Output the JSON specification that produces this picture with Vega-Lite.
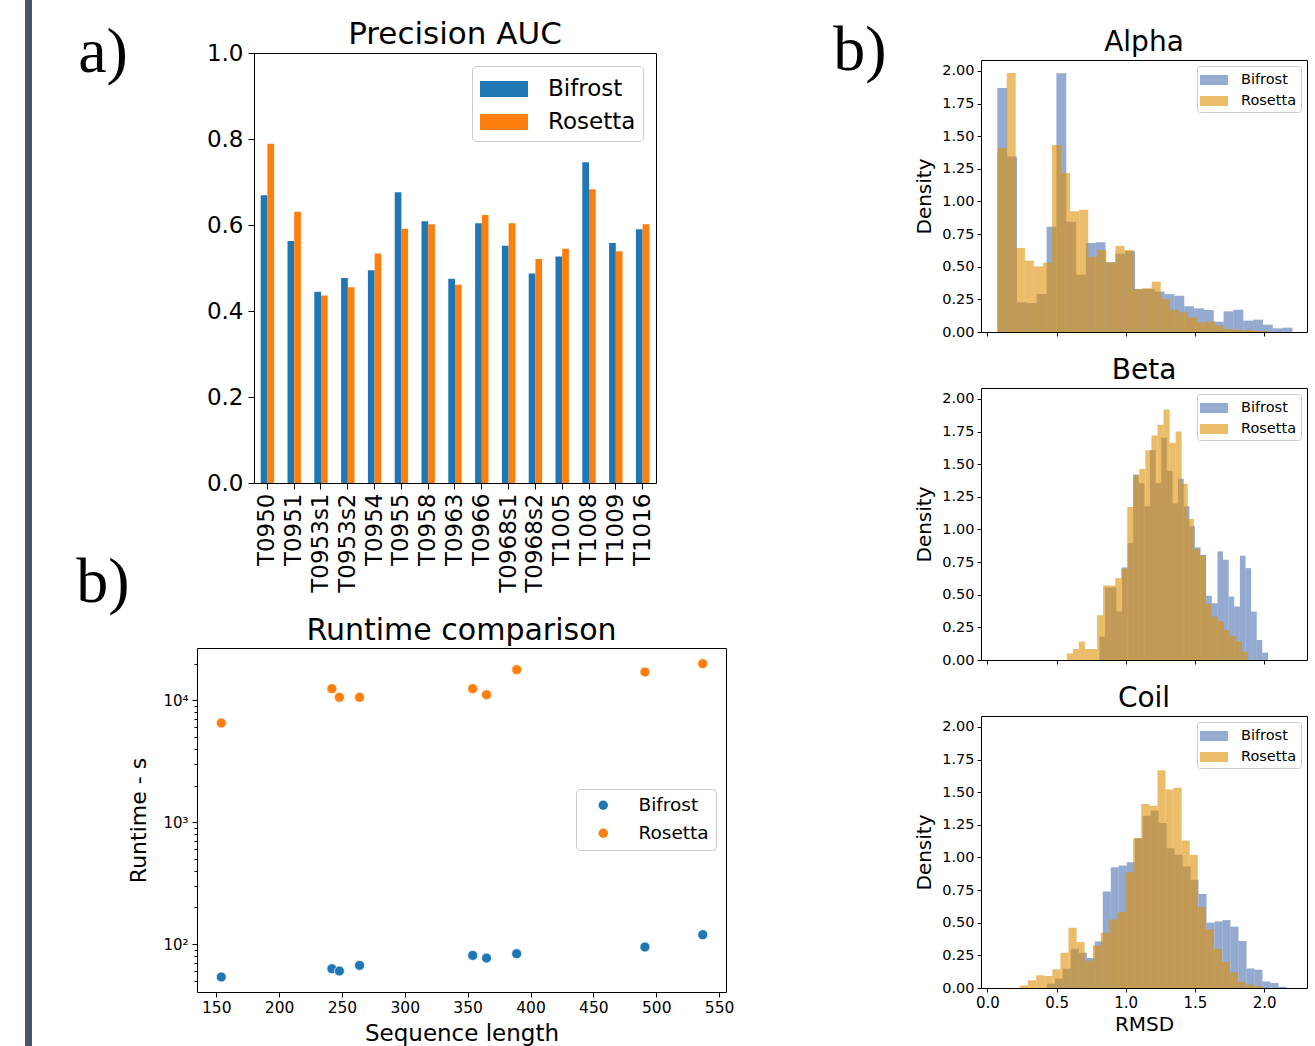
{
  "$schema": "https://vega.github.io/schema/vega-lite/v6.json",
  "padding": 0,
  "background": "white",
  "spacing": 0,
  "resolve": {"scale": {"color": "independent"}, "legend": {"color": "independent"}},
  "config": {
    "font": "DejaVu Sans",
    "view": {"stroke": "#000", "strokeWidth": 1},
    "axis": {"domain": false, "grid": false, "tickColor": "#000", "labelColor": "#000", "titleColor": "#000", "labelFont": "DejaVu Sans", "titleFont": "DejaVu Sans", "titleFontWeight": "normal", "labelFlush": false, "labelOverlap": false},
    "legend": {"labelFont": "DejaVu Sans", "labelColor": "#000", "fillColor": "white", "strokeColor": "#cccccc", "cornerRadius": 4},
    "title": {"font": "DejaVu Sans", "fontWeight": "normal", "color": "#000", "anchor": "middle", "frame": "group"}
  },
  "datasets": {
    "bars": [
      {"target": "T0950", "method": "Bifrost", "auc": 0.669}, {"target": "T0950", "method": "Rosetta", "auc": 0.789},
      {"target": "T0951", "method": "Bifrost", "auc": 0.563}, {"target": "T0951", "method": "Rosetta", "auc": 0.631},
      {"target": "T0953s1", "method": "Bifrost", "auc": 0.445}, {"target": "T0953s1", "method": "Rosetta", "auc": 0.436},
      {"target": "T0953s2", "method": "Bifrost", "auc": 0.477}, {"target": "T0953s2", "method": "Rosetta", "auc": 0.455},
      {"target": "T0954", "method": "Bifrost", "auc": 0.495}, {"target": "T0954", "method": "Rosetta", "auc": 0.534},
      {"target": "T0955", "method": "Bifrost", "auc": 0.676}, {"target": "T0955", "method": "Rosetta", "auc": 0.591},
      {"target": "T0958", "method": "Bifrost", "auc": 0.609}, {"target": "T0958", "method": "Rosetta", "auc": 0.602},
      {"target": "T0963", "method": "Bifrost", "auc": 0.475}, {"target": "T0963", "method": "Rosetta", "auc": 0.461},
      {"target": "T0966", "method": "Bifrost", "auc": 0.604}, {"target": "T0966", "method": "Rosetta", "auc": 0.623},
      {"target": "T0968s1", "method": "Bifrost", "auc": 0.552}, {"target": "T0968s1", "method": "Rosetta", "auc": 0.604},
      {"target": "T0968s2", "method": "Bifrost", "auc": 0.487}, {"target": "T0968s2", "method": "Rosetta", "auc": 0.521},
      {"target": "T1005", "method": "Bifrost", "auc": 0.527}, {"target": "T1005", "method": "Rosetta", "auc": 0.545},
      {"target": "T1008", "method": "Bifrost", "auc": 0.746}, {"target": "T1008", "method": "Rosetta", "auc": 0.683},
      {"target": "T1009", "method": "Bifrost", "auc": 0.558}, {"target": "T1009", "method": "Rosetta", "auc": 0.539},
      {"target": "T1016", "method": "Bifrost", "auc": 0.590}, {"target": "T1016", "method": "Rosetta", "auc": 0.602}
    ],
    "runtime": [
      {"len": 154, "method": "Bifrost", "time": 53.6}, {"len": 242, "method": "Bifrost", "time": 62.7},
      {"len": 248, "method": "Bifrost", "time": 60.0}, {"len": 264, "method": "Bifrost", "time": 66.8},
      {"len": 354, "method": "Bifrost", "time": 80.7}, {"len": 365, "method": "Bifrost", "time": 76.7},
      {"len": 389, "method": "Bifrost", "time": 83.3}, {"len": 491, "method": "Bifrost", "time": 94.5},
      {"len": 537, "method": "Bifrost", "time": 119.3},
      {"len": 154, "method": "Rosetta", "time": 6515}, {"len": 242, "method": "Rosetta", "time": 12470},
      {"len": 248, "method": "Rosetta", "time": 10583}, {"len": 264, "method": "Rosetta", "time": 10583},
      {"len": 354, "method": "Rosetta", "time": 12470}, {"len": 365, "method": "Rosetta", "time": 11130},
      {"len": 389, "method": "Rosetta", "time": 17860}, {"len": 491, "method": "Rosetta", "time": 17080},
      {"len": 537, "method": "Rosetta", "time": 20000}
    ],
    "alpha": [
      {"s": "Bifrost", "x0": 0.072, "x1": 0.143, "d": 1.870}, {"s": "Bifrost", "x0": 0.143, "x1": 0.214, "d": 1.344},
      {"s": "Bifrost", "x0": 0.214, "x1": 0.285, "d": 0.227}, {"s": "Bifrost", "x0": 0.285, "x1": 0.356, "d": 0.222},
      {"s": "Bifrost", "x0": 0.356, "x1": 0.428, "d": 0.291}, {"s": "Bifrost", "x0": 0.428, "x1": 0.499, "d": 0.807},
      {"s": "Bifrost", "x0": 0.499, "x1": 0.570, "d": 1.982}, {"s": "Bifrost", "x0": 0.570, "x1": 0.641, "d": 0.845},
      {"s": "Bifrost", "x0": 0.641, "x1": 0.712, "d": 0.439}, {"s": "Bifrost", "x0": 0.712, "x1": 0.783, "d": 0.682},
      {"s": "Bifrost", "x0": 0.783, "x1": 0.854, "d": 0.687}, {"s": "Bifrost", "x0": 0.854, "x1": 0.925, "d": 0.534},
      {"s": "Bifrost", "x0": 0.925, "x1": 0.996, "d": 0.600}, {"s": "Bifrost", "x0": 0.996, "x1": 1.067, "d": 0.620},
      {"s": "Bifrost", "x0": 1.067, "x1": 1.139, "d": 0.330}, {"s": "Bifrost", "x0": 1.139, "x1": 1.210, "d": 0.330},
      {"s": "Bifrost", "x0": 1.210, "x1": 1.281, "d": 0.310}, {"s": "Bifrost", "x0": 1.281, "x1": 1.352, "d": 0.290},
      {"s": "Bifrost", "x0": 1.352, "x1": 1.423, "d": 0.278}, {"s": "Bifrost", "x0": 1.423, "x1": 1.494, "d": 0.197},
      {"s": "Bifrost", "x0": 1.494, "x1": 1.565, "d": 0.181}, {"s": "Bifrost", "x0": 1.565, "x1": 1.636, "d": 0.169},
      {"s": "Bifrost", "x0": 1.636, "x1": 1.707, "d": 0.079}, {"s": "Bifrost", "x0": 1.707, "x1": 1.778, "d": 0.158},
      {"s": "Bifrost", "x0": 1.778, "x1": 1.850, "d": 0.171}, {"s": "Bifrost", "x0": 1.850, "x1": 1.921, "d": 0.087},
      {"s": "Bifrost", "x0": 1.921, "x1": 1.992, "d": 0.095}, {"s": "Bifrost", "x0": 1.992, "x1": 2.063, "d": 0.056},
      {"s": "Bifrost", "x0": 2.063, "x1": 2.134, "d": 0.028}, {"s": "Bifrost", "x0": 2.134, "x1": 2.205, "d": 0.033},
      {"s": "Rosetta", "x0": 0.074, "x1": 0.140, "d": 1.410}, {"s": "Rosetta", "x0": 0.140, "x1": 0.205, "d": 1.985},
      {"s": "Rosetta", "x0": 0.205, "x1": 0.271, "d": 0.644}, {"s": "Rosetta", "x0": 0.271, "x1": 0.336, "d": 0.547},
      {"s": "Rosetta", "x0": 0.336, "x1": 0.402, "d": 0.503}, {"s": "Rosetta", "x0": 0.402, "x1": 0.467, "d": 0.530},
      {"s": "Rosetta", "x0": 0.467, "x1": 0.533, "d": 1.433}, {"s": "Rosetta", "x0": 0.533, "x1": 0.598, "d": 1.218},
      {"s": "Rosetta", "x0": 0.598, "x1": 0.664, "d": 0.925}, {"s": "Rosetta", "x0": 0.664, "x1": 0.729, "d": 0.937},
      {"s": "Rosetta", "x0": 0.729, "x1": 0.795, "d": 0.577}, {"s": "Rosetta", "x0": 0.795, "x1": 0.860, "d": 0.628},
      {"s": "Rosetta", "x0": 0.860, "x1": 0.926, "d": 0.534}, {"s": "Rosetta", "x0": 0.926, "x1": 0.991, "d": 0.659},
      {"s": "Rosetta", "x0": 0.991, "x1": 1.057, "d": 0.628}, {"s": "Rosetta", "x0": 1.057, "x1": 1.122, "d": 0.330},
      {"s": "Rosetta", "x0": 1.122, "x1": 1.188, "d": 0.335}, {"s": "Rosetta", "x0": 1.188, "x1": 1.253, "d": 0.386},
      {"s": "Rosetta", "x0": 1.253, "x1": 1.319, "d": 0.253}, {"s": "Rosetta", "x0": 1.319, "x1": 1.384, "d": 0.171},
      {"s": "Rosetta", "x0": 1.384, "x1": 1.450, "d": 0.151}, {"s": "Rosetta", "x0": 1.450, "x1": 1.515, "d": 0.112},
      {"s": "Rosetta", "x0": 1.515, "x1": 1.581, "d": 0.074}, {"s": "Rosetta", "x0": 1.581, "x1": 1.646, "d": 0.079},
      {"s": "Rosetta", "x0": 1.646, "x1": 1.712, "d": 0.049}, {"s": "Rosetta", "x0": 1.712, "x1": 1.777, "d": 0.023},
      {"s": "Rosetta", "x0": 1.777, "x1": 1.843, "d": 0.018}, {"s": "Rosetta", "x0": 1.843, "x1": 1.908, "d": 0.015},
      {"s": "Rosetta", "x0": 1.908, "x1": 1.974, "d": 0.010}, {"s": "Rosetta", "x0": 1.974, "x1": 2.039, "d": 0.008}
    ],
    "beta": [
      {"s": "Bifrost", "x0": 0.810, "x1": 0.851, "d": 0.179}, {"s": "Bifrost", "x0": 0.851, "x1": 0.891, "d": 0.556},
      {"s": "Bifrost", "x0": 0.891, "x1": 0.932, "d": 0.556}, {"s": "Bifrost", "x0": 0.932, "x1": 0.972, "d": 0.371},
      {"s": "Bifrost", "x0": 0.972, "x1": 1.013, "d": 0.709}, {"s": "Bifrost", "x0": 1.013, "x1": 1.054, "d": 0.896},
      {"s": "Bifrost", "x0": 1.054, "x1": 1.094, "d": 1.421}, {"s": "Bifrost", "x0": 1.094, "x1": 1.135, "d": 1.357},
      {"s": "Bifrost", "x0": 1.135, "x1": 1.175, "d": 1.178}, {"s": "Bifrost", "x0": 1.175, "x1": 1.216, "d": 1.608},
      {"s": "Bifrost", "x0": 1.216, "x1": 1.257, "d": 1.357}, {"s": "Bifrost", "x0": 1.257, "x1": 1.297, "d": 1.702},
      {"s": "Bifrost", "x0": 1.297, "x1": 1.338, "d": 1.450}, {"s": "Bifrost", "x0": 1.338, "x1": 1.378, "d": 1.200},
      {"s": "Bifrost", "x0": 1.378, "x1": 1.419, "d": 1.388}, {"s": "Bifrost", "x0": 1.419, "x1": 1.460, "d": 1.178},
      {"s": "Bifrost", "x0": 1.460, "x1": 1.500, "d": 1.024}, {"s": "Bifrost", "x0": 1.500, "x1": 1.541, "d": 0.863},
      {"s": "Bifrost", "x0": 1.541, "x1": 1.581, "d": 0.806}, {"s": "Bifrost", "x0": 1.581, "x1": 1.622, "d": 0.492},
      {"s": "Bifrost", "x0": 1.622, "x1": 1.663, "d": 0.435}, {"s": "Bifrost", "x0": 1.663, "x1": 1.703, "d": 0.832},
      {"s": "Bifrost", "x0": 1.703, "x1": 1.744, "d": 0.768}, {"s": "Bifrost", "x0": 1.744, "x1": 1.784, "d": 0.486},
      {"s": "Bifrost", "x0": 1.784, "x1": 1.825, "d": 0.410}, {"s": "Bifrost", "x0": 1.825, "x1": 1.866, "d": 0.799},
      {"s": "Bifrost", "x0": 1.866, "x1": 1.906, "d": 0.704}, {"s": "Bifrost", "x0": 1.906, "x1": 1.947, "d": 0.371},
      {"s": "Bifrost", "x0": 1.947, "x1": 1.987, "d": 0.154}, {"s": "Bifrost", "x0": 1.987, "x1": 2.028, "d": 0.056},
      {"s": "Rosetta", "x0": 0.574, "x1": 0.618, "d": 0.051}, {"s": "Rosetta", "x0": 0.618, "x1": 0.661, "d": 0.084},
      {"s": "Rosetta", "x0": 0.661, "x1": 0.705, "d": 0.141}, {"s": "Rosetta", "x0": 0.705, "x1": 0.749, "d": 0.084},
      {"s": "Rosetta", "x0": 0.749, "x1": 0.793, "d": 0.084}, {"s": "Rosetta", "x0": 0.793, "x1": 0.836, "d": 0.343},
      {"s": "Rosetta", "x0": 0.836, "x1": 0.880, "d": 0.571}, {"s": "Rosetta", "x0": 0.880, "x1": 0.924, "d": 0.571},
      {"s": "Rosetta", "x0": 0.924, "x1": 0.967, "d": 0.627}, {"s": "Rosetta", "x0": 0.967, "x1": 1.011, "d": 0.700},
      {"s": "Rosetta", "x0": 1.011, "x1": 1.055, "d": 1.173}, {"s": "Rosetta", "x0": 1.055, "x1": 1.098, "d": 1.413},
      {"s": "Rosetta", "x0": 1.098, "x1": 1.142, "d": 1.464}, {"s": "Rosetta", "x0": 1.142, "x1": 1.186, "d": 1.608},
      {"s": "Rosetta", "x0": 1.186, "x1": 1.230, "d": 1.720}, {"s": "Rosetta", "x0": 1.230, "x1": 1.273, "d": 1.802},
      {"s": "Rosetta", "x0": 1.273, "x1": 1.317, "d": 1.920}, {"s": "Rosetta", "x0": 1.317, "x1": 1.361, "d": 1.664},
      {"s": "Rosetta", "x0": 1.361, "x1": 1.404, "d": 1.750}, {"s": "Rosetta", "x0": 1.404, "x1": 1.448, "d": 1.350},
      {"s": "Rosetta", "x0": 1.448, "x1": 1.492, "d": 1.080}, {"s": "Rosetta", "x0": 1.492, "x1": 1.535, "d": 0.850},
      {"s": "Rosetta", "x0": 1.535, "x1": 1.579, "d": 0.800}, {"s": "Rosetta", "x0": 1.579, "x1": 1.623, "d": 0.430},
      {"s": "Rosetta", "x0": 1.623, "x1": 1.667, "d": 0.333}, {"s": "Rosetta", "x0": 1.667, "x1": 1.710, "d": 0.300},
      {"s": "Rosetta", "x0": 1.710, "x1": 1.754, "d": 0.230}, {"s": "Rosetta", "x0": 1.754, "x1": 1.798, "d": 0.184},
      {"s": "Rosetta", "x0": 1.798, "x1": 1.841, "d": 0.146}, {"s": "Rosetta", "x0": 1.841, "x1": 1.885, "d": 0.064}
    ],
    "coil": [
      {"s": "Bifrost", "x0": 0.430, "x1": 0.488, "d": 0.033}, {"s": "Bifrost", "x0": 0.488, "x1": 0.545, "d": 0.071},
      {"s": "Bifrost", "x0": 0.545, "x1": 0.603, "d": 0.148}, {"s": "Bifrost", "x0": 0.603, "x1": 0.661, "d": 0.300},
      {"s": "Bifrost", "x0": 0.661, "x1": 0.719, "d": 0.270}, {"s": "Bifrost", "x0": 0.719, "x1": 0.776, "d": 0.230},
      {"s": "Bifrost", "x0": 0.776, "x1": 0.834, "d": 0.357}, {"s": "Bifrost", "x0": 0.834, "x1": 0.892, "d": 0.739},
      {"s": "Bifrost", "x0": 0.892, "x1": 0.949, "d": 0.925}, {"s": "Bifrost", "x0": 0.949, "x1": 1.007, "d": 0.938},
      {"s": "Bifrost", "x0": 1.007, "x1": 1.065, "d": 0.963}, {"s": "Bifrost", "x0": 1.065, "x1": 1.122, "d": 1.147},
      {"s": "Bifrost", "x0": 1.122, "x1": 1.180, "d": 1.320}, {"s": "Bifrost", "x0": 1.180, "x1": 1.238, "d": 1.358},
      {"s": "Bifrost", "x0": 1.238, "x1": 1.296, "d": 1.264}, {"s": "Bifrost", "x0": 1.296, "x1": 1.353, "d": 1.070},
      {"s": "Bifrost", "x0": 1.353, "x1": 1.411, "d": 1.020}, {"s": "Bifrost", "x0": 1.411, "x1": 1.469, "d": 0.930},
      {"s": "Bifrost", "x0": 1.469, "x1": 1.526, "d": 0.830}, {"s": "Bifrost", "x0": 1.526, "x1": 1.584, "d": 0.720},
      {"s": "Bifrost", "x0": 1.584, "x1": 1.642, "d": 0.500}, {"s": "Bifrost", "x0": 1.642, "x1": 1.699, "d": 0.510},
      {"s": "Bifrost", "x0": 1.699, "x1": 1.757, "d": 0.520}, {"s": "Bifrost", "x0": 1.757, "x1": 1.815, "d": 0.470},
      {"s": "Bifrost", "x0": 1.815, "x1": 1.873, "d": 0.360}, {"s": "Bifrost", "x0": 1.873, "x1": 1.930, "d": 0.150},
      {"s": "Bifrost", "x0": 1.930, "x1": 1.988, "d": 0.140}, {"s": "Bifrost", "x0": 1.988, "x1": 2.046, "d": 0.050},
      {"s": "Bifrost", "x0": 2.046, "x1": 2.103, "d": 0.038}, {"s": "Bifrost", "x0": 2.103, "x1": 2.161, "d": 0.010},
      {"s": "Rosetta", "x0": 0.236, "x1": 0.294, "d": 0.020}, {"s": "Rosetta", "x0": 0.294, "x1": 0.353, "d": 0.059},
      {"s": "Rosetta", "x0": 0.353, "x1": 0.411, "d": 0.097}, {"s": "Rosetta", "x0": 0.411, "x1": 0.470, "d": 0.092},
      {"s": "Rosetta", "x0": 0.470, "x1": 0.528, "d": 0.143}, {"s": "Rosetta", "x0": 0.528, "x1": 0.586, "d": 0.270},
      {"s": "Rosetta", "x0": 0.586, "x1": 0.645, "d": 0.461}, {"s": "Rosetta", "x0": 0.645, "x1": 0.703, "d": 0.352},
      {"s": "Rosetta", "x0": 0.703, "x1": 0.762, "d": 0.210}, {"s": "Rosetta", "x0": 0.762, "x1": 0.820, "d": 0.326},
      {"s": "Rosetta", "x0": 0.820, "x1": 0.878, "d": 0.423}, {"s": "Rosetta", "x0": 0.878, "x1": 0.937, "d": 0.525},
      {"s": "Rosetta", "x0": 0.937, "x1": 0.995, "d": 0.581}, {"s": "Rosetta", "x0": 0.995, "x1": 1.054, "d": 0.887},
      {"s": "Rosetta", "x0": 1.054, "x1": 1.112, "d": 1.147}, {"s": "Rosetta", "x0": 1.112, "x1": 1.170, "d": 1.409},
      {"s": "Rosetta", "x0": 1.170, "x1": 1.229, "d": 1.397}, {"s": "Rosetta", "x0": 1.229, "x1": 1.287, "d": 1.669},
      {"s": "Rosetta", "x0": 1.287, "x1": 1.346, "d": 1.520}, {"s": "Rosetta", "x0": 1.346, "x1": 1.404, "d": 1.534},
      {"s": "Rosetta", "x0": 1.404, "x1": 1.462, "d": 1.130}, {"s": "Rosetta", "x0": 1.462, "x1": 1.521, "d": 1.019},
      {"s": "Rosetta", "x0": 1.521, "x1": 1.579, "d": 0.620}, {"s": "Rosetta", "x0": 1.579, "x1": 1.638, "d": 0.450},
      {"s": "Rosetta", "x0": 1.638, "x1": 1.696, "d": 0.300}, {"s": "Rosetta", "x0": 1.696, "x1": 1.754, "d": 0.200},
      {"s": "Rosetta", "x0": 1.754, "x1": 1.813, "d": 0.120}, {"s": "Rosetta", "x0": 1.813, "x1": 1.871, "d": 0.046},
      {"s": "Rosetta", "x0": 1.871, "x1": 1.930, "d": 0.025}, {"s": "Rosetta", "x0": 1.930, "x1": 1.988, "d": 0.015}
    ]
  },
  "hconcat": [
    {"width": 25, "height": 1046, "data": {"values": []}, "mark": "rect", "view": {"stroke": null}},
    {"width": 7, "height": 1046, "data": {"values": []}, "mark": "rect", "view": {"stroke": null, "fill": "#47566e"}},
    {"width": 44, "height": 1, "data": {"values": []}, "mark": "rect", "view": {"stroke": null}},
    {
      "spacing": 0,
      "resolve": {"scale": {"color": "independent"}, "legend": {"color": "independent"}},
      "vconcat": [
        {"width": 1, "height": 17.5, "data": {"values": []}, "mark": "rect", "view": {"stroke": null}},
        {
          "spacing": 75,
          "resolve": {"scale": {"color": "independent"}, "legend": {"color": "independent"}},
          "hconcat": [
            {
              "spacing": 0,
              "vconcat": [
                {"width": 50, "height": 38, "data": {"values": [{}]}, "mark": {"type": "text", "font": "Liberation Serif", "fontSize": 64, "align": "center", "baseline": "alphabetic", "color": "#000"}, "encoding": {"text": {"value": "a)"}}, "view": {"stroke": null}},
                {"width": 1, "height": 460, "data": {"values": []}, "mark": "rect", "view": {"stroke": null}},
                {"width": 50, "height": 2, "data": {"values": [{}]}, "mark": {"type": "text", "font": "Liberation Serif", "fontSize": 64, "align": "center", "baseline": "alphabetic", "color": "#000"}, "encoding": {"text": {"value": "b)"}}, "view": {"stroke": null}}
              ]
            },
            {
              "width": 402, "height": 430,
              "data": {"name": "bars"},
              "title": {"text": "Precision AUC", "fontSize": 31, "offset": -9},
              "mark": {"type": "bar"},
              "encoding": {
                "x": {"field": "target", "type": "nominal", "sort": null, "scale": {"paddingInner": 0.5, "paddingOuter": 0.25}, "axis": {"title": null, "labelAngle": -90, "labelFontSize": 23, "tickSize": 6, "labelPadding": 4}},
                "xOffset": {"field": "method", "type": "nominal", "sort": ["Bifrost", "Rosetta"]},
                "y": {"field": "auc", "type": "quantitative", "scale": {"domain": [0, 1], "nice": false}, "axis": {"title": null, "values": [0, 0.2, 0.4, 0.6, 0.8, 1.0], "format": ".1f", "labelFontSize": 23, "tickSize": 6, "labelPadding": 5}},
                "color": {"field": "method", "type": "nominal", "scale": {"domain": ["Bifrost", "Rosetta"], "range": ["#1f77b4", "#ff7f0e"]},
                  "legend": {"title": null, "orient": "top-right", "offset": 13, "labelFontSize": 23, "symbolType": "M-1.5,-0.5L1.5,-0.5L1.5,0.5L-1.5,0.5Z", "symbolSize": 1024, "symbolStrokeWidth": 0, "symbolOffset": 9, "labelOffset": 28, "padding": 7, "rowPadding": 5}}
              }
            }
          ]
        },
        {
          "spacing": 0,
          "resolve": {"scale": {"color": "independent"}, "legend": {"color": "independent"}},
          "hconcat": [
            {"width": 49, "height": 1, "data": {"values": []}, "mark": "rect", "view": {"stroke": null}},
            {
              "width": 529, "height": 344,
              "data": {"name": "runtime"},
              "title": {"text": "Runtime comparison", "fontSize": 30, "offset": 2},
              "mark": {"type": "point", "filled": true, "size": 100, "opacity": 1, "stroke": "white", "strokeWidth": 0.7},
              "encoding": {
                "x": {"field": "len", "type": "quantitative", "scale": {"domain": [134.7, 555.5], "nice": false, "zero": false}, "axis": {"title": "Sequence length", "titleFontSize": 23, "titlePadding": 7, "values": [150, 200, 250, 300, 350, 400, 450, 500, 550], "labelFontSize": 15.5, "tickSize": 5, "labelPadding": 3}},
                "y": {"field": "time", "type": "quantitative", "scale": {"type": "log", "domain": [40.4, 26890], "nice": false}, "axis": {"title": "Runtime - s", "titleFontSize": 22, "titlePadding": 12, "values": [50, 60, 70, 80, 90, 100, 200, 300, 400, 500, 600, 700, 800, 900, 1000, 2000, 3000, 4000, 5000, 6000, 7000, 8000, 9000, 10000, 20000], "labelExpr": "datum.value == 100 ? '10²' : datum.value == 1000 ? '10³' : datum.value == 10000 ? '10⁴' : ''", "labelFontSize": 15, "labelPadding": 4, "tickSize": {"condition": {"test": "datum.value == 100 || datum.value == 1000 || datum.value == 10000", "value": 5}, "value": 3}}},
                "color": {"field": "method", "type": "nominal", "scale": {"domain": ["Bifrost", "Rosetta"], "range": ["#1f77b4", "#ff7f0e"]},
                  "legend": {"title": null, "orient": "none", "legendX": 379, "legendY": 141, "labelFontSize": 18.5, "symbolType": "circle", "symbolSize": 90, "symbolStrokeWidth": 0, "symbolOffset": 11, "labelOffset": 26, "padding": 7, "rowPadding": 9}}
              }
            }
          ]
        }
      ]
    },
    {"width": 97.5, "height": 1, "data": {"values": []}, "mark": "rect", "view": {"stroke": null}},
    {
      "spacing": 0,
      "resolve": {"scale": {"color": "independent"}, "legend": {"color": "independent"}},
      "vconcat": [
        {"width": 1, "height": 17.3, "data": {"values": []}, "mark": "rect", "view": {"stroke": null}},
        {
          "spacing": 27,
          "resolve": {"scale": {"color": "independent"}, "legend": {"color": "independent"}},
          "hconcat": [
            {"width": 50, "height": 19, "data": {"values": [{}]}, "mark": {"type": "text", "font": "Liberation Serif", "fontSize": 64, "align": "center", "baseline": "alphabetic", "color": "#000"}, "encoding": {"text": {"value": "b)"}}, "view": {"stroke": null}},
            {
              "spacing": 17,
              "resolve": {"scale": {"color": "independent"}, "legend": {"color": "independent"}},
              "vconcat": [
                {
                  "width": 326, "height": 272,
                  "data": {"name": "alpha"},
                  "title": {"text": "Alpha", "fontSize": 28, "offset": 3},
                  "mark": {"type": "rect", "opacity": 0.6, "strokeWidth": 0},
                  "encoding": {
                    "x": {"field": "x0", "type": "quantitative", "scale": {"domain": [-0.046, 2.31], "nice": false, "zero": false}, "axis": {"title": null, "labels": false, "values": [0, 0.5, 1, 1.5, 2], "tickSize": 4}},
                    "x2": {"field": "x1"},
                    "y": {"field": "d", "type": "quantitative", "scale": {"domain": [0, 2.084], "nice": false}, "axis": {"title": "Density", "titleFontSize": 20, "titlePadding": 7, "values": [0, 0.25, 0.5, 0.75, 1, 1.25, 1.5, 1.75, 2], "format": ".2f", "labelFontSize": 14.5, "tickSize": 4, "labelPadding": 3}},
                    "y2": {"datum": 0},
                    "color": {"field": "s", "type": "nominal", "scale": {"domain": ["Bifrost", "Rosetta"], "range": ["#4C72B0", "#DE8F05"]},
                      "legend": {"title": null, "orient": "top-right", "offset": 6, "labelFontSize": 14.5, "symbolType": "M-1.4,-0.5L1.4,-0.5L1.4,0.5L-1.4,0.5Z", "symbolSize": 400, "symbolOpacity": 0.6, "symbolStrokeWidth": 0, "symbolOffset": 3, "labelOffset": 17, "padding": 4, "rowPadding": 4, "cornerRadius": 3}}
                  }
                },
                {
                  "width": 326, "height": 272,
                  "data": {"name": "beta"},
                  "title": {"text": "Beta", "fontSize": 28, "offset": 3},
                  "mark": {"type": "rect", "opacity": 0.6, "strokeWidth": 0},
                  "encoding": {
                    "x": {"field": "x0", "type": "quantitative", "scale": {"domain": [-0.046, 2.31], "nice": false, "zero": false}, "axis": {"title": null, "labels": false, "values": [0, 0.5, 1, 1.5, 2], "tickSize": 4}},
                    "x2": {"field": "x1"},
                    "y": {"field": "d", "type": "quantitative", "scale": {"domain": [0, 2.084], "nice": false}, "axis": {"title": "Density", "titleFontSize": 20, "titlePadding": 7, "values": [0, 0.25, 0.5, 0.75, 1, 1.25, 1.5, 1.75, 2], "format": ".2f", "labelFontSize": 14.5, "tickSize": 4, "labelPadding": 3}},
                    "y2": {"datum": 0},
                    "color": {"field": "s", "type": "nominal", "scale": {"domain": ["Bifrost", "Rosetta"], "range": ["#4C72B0", "#DE8F05"]},
                      "legend": {"title": null, "orient": "top-right", "offset": 6, "labelFontSize": 14.5, "symbolType": "M-1.4,-0.5L1.4,-0.5L1.4,0.5L-1.4,0.5Z", "symbolSize": 400, "symbolOpacity": 0.6, "symbolStrokeWidth": 0, "symbolOffset": 3, "labelOffset": 17, "padding": 4, "rowPadding": 4, "cornerRadius": 3}}
                  }
                },
                {
                  "width": 326, "height": 272,
                  "data": {"name": "coil"},
                  "title": {"text": "Coil", "fontSize": 28, "offset": 3},
                  "mark": {"type": "rect", "opacity": 0.6, "strokeWidth": 0},
                  "encoding": {
                    "x": {"field": "x0", "type": "quantitative", "scale": {"domain": [-0.046, 2.31], "nice": false, "zero": false}, "axis": {"title": "RMSD", "titleFontSize": 20, "titlePadding": 4, "values": [0, 0.5, 1, 1.5, 2], "format": ".1f", "labelFontSize": 15, "tickSize": 4, "labelPadding": 3}},
                    "x2": {"field": "x1"},
                    "y": {"field": "d", "type": "quantitative", "scale": {"domain": [0, 2.084], "nice": false}, "axis": {"title": "Density", "titleFontSize": 20, "titlePadding": 7, "values": [0, 0.25, 0.5, 0.75, 1, 1.25, 1.5, 1.75, 2], "format": ".2f", "labelFontSize": 14.5, "tickSize": 4, "labelPadding": 3}},
                    "y2": {"datum": 0},
                    "color": {"field": "s", "type": "nominal", "scale": {"domain": ["Bifrost", "Rosetta"], "range": ["#4C72B0", "#DE8F05"]},
                      "legend": {"title": null, "orient": "top-right", "offset": 6, "labelFontSize": 14.5, "symbolType": "M-1.4,-0.5L1.4,-0.5L1.4,0.5L-1.4,0.5Z", "symbolSize": 400, "symbolOpacity": 0.6, "symbolStrokeWidth": 0, "symbolOffset": 3, "labelOffset": 17, "padding": 4, "rowPadding": 4, "cornerRadius": 3}}
                  }
                }
              ]
            }
          ]
        }
      ]
    }
  ]
}
